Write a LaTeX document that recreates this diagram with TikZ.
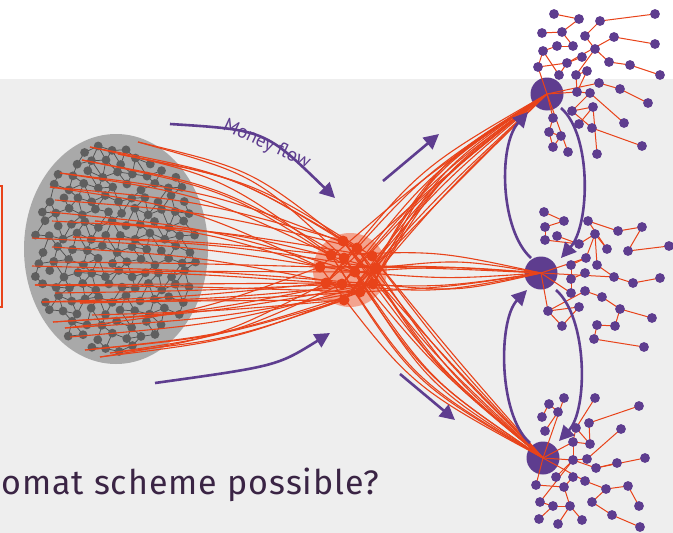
\documentclass[tikz,border=0pt]{standalone}
\usepackage{fontspec}
\setmainfont{Fira Sans}
\newfontfamily\labelfont{PT Sans}
\newfontfamily\titlefont[LetterSpace=3]{Fira Sans}
\usetikzlibrary{arrows.meta}
\definecolor{bandgray}{HTML}{EEEEEE}
\definecolor{blobgray}{HTML}{A9A9A9}
\definecolor{netgray}{HTML}{5F5F5F}
\definecolor{flowred}{HTML}{E8431A}
\definecolor{hazered}{HTML}{F3A38E}
\definecolor{purp}{HTML}{5E3D8F}
\definecolor{titleink}{HTML}{3A2444}
\newdimen\qsx \newdimen\qsy \newdimen\qkx \newdimen\qky \newdimen\qhx \newdimen\qhy

\begin{document}
\begin{tikzpicture}[x=1pt,y=-1pt,
  declare function={
    px(\a,\b)=116+14*\a+7*mod(\b+20,2)+4*sin(733*\a+419*\b+17);
    py(\a,\b)=249+12.5*\b+3.5*sin(577*\a+263*\b+101);
    ins(\a,\b)=((px(\a,\b)-116)/84)^2+((py(\a,\b)-249)/106)^2<1;
  },
  netedge/.style={draw=netgray!85!black, line width=0.75pt},
  netdot/.style={fill=netgray},
  flow/.style={draw=flowred, line width=1.1pt},
  hubedge/.style={draw=flowred, line width=1pt},
  hubdot/.style={fill=purp},
  moneyarrow/.style={draw=purp, line width=2.6pt, -{Triangle[length=15pt,width=15pt]}},
  swaparrow/.style={draw=purp, line width=2.6pt, -{Triangle[length=15pt,width=15pt]}},
  flowlabel/.style={text=purp, inner sep=0pt, font=\labelfont\fontsize{19pt}{22pt}\selectfont},
]
\useasboundingbox (0,0) rectangle (673,533);
\clip (0,0) rectangle (673,533);

% backdrop: white strip on top, grey band below
\fill[white] (0,0) rectangle (673,79);
\fill[bandgray] (0,79) rectangle (673,533);

% edge of the framed box on the left
\draw[flowred, line width=1.5pt] (-30,186) rectangle (2,307);

% the population: grey oval with a meshed network
\fill[blobgray] (116,249) ellipse [x radius=92pt, y radius=115pt];
\foreach \j in {-9,...,9}{
  \foreach \i in {-8,...,8}{
    \pgfmathtruncatemacro\here{ins(\i,\j)}
    \ifnum\here=1
      \pgfmathsetmacro\xa{px(\i,\j)}
      \pgfmathsetmacro\ya{py(\i,\j)}
      \pgfmathtruncatemacro\m{mod(\j+20,2)}
      \pgfmathtruncatemacro\keep{ins(\i+1,\j)*(sin(311*\i+173*\j+29)>-0.6)}
      \ifnum\keep=1
        \pgfmathsetmacro\xb{px(\i+1,\j)}\pgfmathsetmacro\yb{py(\i+1,\j)}
        \draw[netedge] (\xa,\ya) -- (\xb,\yb);
      \fi
      \pgfmathtruncatemacro\il{\i-1+\m}
      \pgfmathtruncatemacro\keep{ins(\il,\j+1)*(sin(197*\i+389*\j+71)>-0.45)}
      \ifnum\keep=1
        \pgfmathsetmacro\xb{px(\il,\j+1)}\pgfmathsetmacro\yb{py(\il,\j+1)}
        \draw[netedge] (\xa,\ya) -- (\xb,\yb);
      \fi
      \pgfmathtruncatemacro\ir{\i+\m}
      \pgfmathtruncatemacro\keep{ins(\ir,\j+1)*(sin(523*\i+157*\j+13)>-0.45)}
      \ifnum\keep=1
        \pgfmathsetmacro\xb{px(\ir,\j+1)}\pgfmathsetmacro\yb{py(\ir,\j+1)}
        \draw[netedge] (\xa,\ya) -- (\xb,\yb);
      \fi
    \fi
  }
}
\foreach \j in {-9,...,9}{
  \foreach \i in {-8,...,8}{
    \pgfmathtruncatemacro\here{ins(\i,\j)}
    \ifnum\here=1
      \pgfmathsetmacro\xa{px(\i,\j)}
      \pgfmathsetmacro\ya{py(\i,\j)}
      \fill[netdot] (\xa,\ya) circle (4.4pt);
    \fi
  }
}

% starting points of the money trails
\foreach \n/\x/\y in {1/138/142,2/90/147,3/118/154,4/82/160,5/60/173,6/50/187,
  7/55/200,8/50/212,9/52/221,10/95/221,11/32/238,12/73/237,13/52/247,14/50/262,
  15/32/266,16/75/271,17/35/285,18/55/293,19/42/302,20/80/303,21/92/315,
  22/53/322,23/65/328,24/70/337,25/85/350,26/100/357,27/110/353}
  \coordinate (s\n) at (\x,\y);

% the mixer in the middle
\coordinate (mix) at (350,270);
\fill[hazered] (mix) circle (37pt);
\foreach \n/\x/\y in {1/343/241,2/357/248,3/372/256,4/331/255,5/344/258,6/320/267,
  7/355/272,8/376/268,9/326/283,10/342/284,11/373/284,12/360/292,13/344/300}
  \coordinate (k\n) at (\x,\y);

% the three collecting hubs
\coordinate (h1) at (547,94);
\coordinate (h2) at (541,273);
\coordinate (h3) at (543,458);
\foreach \h in {h1,h2,h3} \fill[purp] (\h) circle (16.5pt);

% money trails: origin -> mixer knot -> hub; each leg is a quadratic arc,
% the first bowed by the drop to the knot, the second by the listed amount
\foreach \s/\k/\h/\bow in {
  s1/k1/h3/-10,s1/k5/h3/-60,s2/k2/h3/-20,s2/k4/h3/-75,s3/k3/h3/-5,s3/k1/h3/-40,
  s4/k5/h3/-30,s4/k7/h3/-65,s5/k4/h3/-80,s5/k2/h3/-45,s6/k6/h3/-70,s6/k1/h3/-25,
  s7/k2/h3/-50,s8/k7/h3/-55,s9/k3/h3/-15,s10/k8/h3/-35,
  s10/k6/h2/10,s11/k7/h2/-15,s12/k8/h2/25,s12/k4/h2/30,s13/k10/h2/-20,
  s14/k6/h2/5,s15/k11/h2/-30,s16/k7/h2/15,s16/k9/h2/-35,s17/k12/h2/-10,
  s17/k9/h1/10,s18/k10/h1/25,s19/k13/h1/5,s19/k9/h1/45,s20/k12/h1/15,
  s20/k11/h1/65,s21/k13/h1/30,s22/k10/h1/50,s23/k12/h1/75,s23/k6/h1/20,
  s24/k11/h1/80,s25/k13/h1/40,s26/k9/h1/60,s26/k12/h1/70,s27/k10/h1/35,
  s27/k13/h1/15,s22/k11/h1/55,s25/k12/h1/48}{
  \pgfextractx{\qsx}{\pgfpointanchor{\s}{center}}
  \pgfextracty{\qsy}{\pgfpointanchor{\s}{center}}
  \pgfextractx{\qkx}{\pgfpointanchor{\k}{center}}
  \pgfextracty{\qky}{\pgfpointanchor{\k}{center}}
  \pgfextractx{\qhx}{\pgfpointanchor{\h}{center}}
  \pgfextracty{\qhy}{\pgfpointanchor{\h}{center}}
  \pgfmathsetmacro\bl{0.25*(\qsy-\qky)}
  \pgfmathsetmacro\br{0.45*\bow}
  \pgfmathsetmacro\Ll{100*veclen((\qkx-\qsx)/100,(\qky-\qsy)/100)}
  \pgfmathsetmacro\clx{(\qsx+\qkx)/2-\bl*((\qky-\qsy)/\Ll)}
  \pgfmathsetmacro\cly{(\qsy+\qky)/2+\bl*((\qkx-\qsx)/\Ll)}
  \pgfmathsetmacro\Lr{100*veclen((\qhx-\qkx)/100,(\qhy-\qky)/100)}
  \pgfmathsetmacro\crx{(\qkx+\qhx)/2-\br*((\qhy-\qky)/\Lr)}
  \pgfmathsetmacro\cry{(\qky+\qhy)/2+\br*((\qhx-\qkx)/\Lr)}
  \draw[flow] (\s) .. controls (\clx pt,\cly pt) .. (\k)
                   .. controls (\crx pt,\cry pt) .. (\h);
}

\foreach \n in {1,...,13} \fill[flowred] (k\n) circle (5.5pt);

% network around the upper hub
\foreach \n/\x/\y in {1/554/14,2/579/19,3/655/14,4/600/21,5/542/33,6/562/32,
  7/585/36,8/614/37,9/655/44,10/557/46,11/573/46,12/543/51,13/595/49,14/582/57,
  15/538/67,16/567/63,17/609/62,18/630/65,19/660/75,20/559/75,21/576/75,
  22/587/71,23/599/83,24/577/92,25/590/93,26/620/89,27/648/103,28/572/111,
  29/593/107,30/553/118,31/579/124,32/592/128,33/624/123,34/549/132,35/561/136,
  36/553/147,37/568/152,38/597/154,39/642/146}
  \coordinate (a\n) at (\x,\y);
\foreach \p/\q in {a1/a2,a2/a6,a4/a3,a4/a7,a7/a13,a5/a6,a6/a11,a10/a12,a10/a11,
  a8/a9,a8/a16,a13/a17,a17/a18,a18/a19,a13/a21,a12/a20,a12/a15,a15/a16,a16/a20,
  h1/a15,a21/a22,a21/a24,a22/a24,a24/a25,a23/a26,a26/a27,h1/a24,h1/a23,a25/a28,
  a25/a33,a28/a29,a29/a31,h1/a30,a34/a35,a35/a36,a34/a36,h1/a37,a29/a38,
  a32/a39,a28/a32,a14/a16,a30/a34}
  \draw[hubedge] (\p) -- (\q);
\foreach \n in {1,...,39} \fill[hubdot] (a\n) circle (4.9pt);

% network around the middle hub
\foreach \n/\x/\y in {1/544/212,2/564/221,3/545/227,4/588/221,5/642/227,6/618/231,
  7/557/236,8/545/240,9/595/234,10/579/244,11/607/249,12/628/251,13/669/246,
  14/586/258,15/571/265,16/597/265,17/585/273,18/571/279,19/614/277,20/633/283,
  21/660/278,22/571/293,23/585/291,24/602/297,25/579/307,26/548/311,27/620/309,
  28/652/318,29/562/326,30/597/325,31/615/326,32/594/339,33/644/347}
  \coordinate (b\n) at (\x,\y);
\foreach \p/\q in {b1/b2,b2/b3,b3/b8,b8/b10,b7/b10,b4/b6,b6/b5,b5/b12,b12/b13,
  b9/b10,b9/b11,b9/b16,b9/b14,b4/b11,h2/b14,b15/b18,b18/b22,b15/b14,b16/b19,
  b19/b20,b20/b21,h2/b19,h2/b22,h2/b26,b26/b25,b26/b29,b29/b25,b23/b24,b26/b23,
  b24/b27,b27/b28,b27/b31,b31/b30,b30/b32,b32/b33,b17/b18}
  \draw[hubedge] (\p) -- (\q);
\foreach \n in {1,...,33} \fill[hubdot] (b\n) circle (4.9pt);

% network around the lower hub
\foreach \n/\x/\y in {1/549/404,2/564/398,3/542/417,4/558/412,5/595/398,6/639/406,
  7/545/431,8/576/428,9/589/423,10/621/429,11/573/442,12/590/444,13/573/460,
  14/587/459,15/596/468,16/617/463,17/645/458,18/556/477,19/573/477,20/585/481,
  21/536/485,22/564/487,23/606/489,24/628/486,25/540/502,26/553/506,27/570/506,
  28/592/502,29/639/506,30/539/519,31/558/524,32/582/520,33/612/515,34/640/527}
  \coordinate (c\n) at (\x,\y);
\foreach \p/\q in {c1/c3,c1/c4,h3/c2,c5/c8,c8/c12,c8/c11,c9/c6,c9/c12,c10/c14,
  h3/c11,c11/c13,c11/c12,h3/c13,c13/c14,c13/c15,c15/c17,c15/c16,c13/c25,c13/c18,
  c21/c22,c22/c19,c22/c27,c27/c32,c27/c31,c26/c25,c26/c27,c26/c30,h3/c21,
  c20/c23,c23/c24,c24/c29,c23/c28,c28/c33,c33/c34,h3/c20,c4/c7}
  \draw[hubedge] (\p) -- (\q);
\foreach \n in {1,...,34} \fill[hubdot] (c\n) circle (4.9pt);

% flow arrows around the mixer
\coordinate (mfA) at (170,124);
\coordinate (mfB) at (335,198);
\draw[moneyarrow] (mfA) .. controls (265,130) .. (mfB);
\coordinate (lfA) at (155,383);
\coordinate (lfB) at (330,333);
\draw[moneyarrow] (lfA) .. controls (277,366) .. (lfB);
\coordinate (upA) at (383,181);
\coordinate (upB) at (439,134);
\draw[moneyarrow] (upA) -- (upB);
\coordinate (dnA) at (400,374);
\coordinate (dnB) at (455,420);
\draw[moneyarrow] (dnA) -- (dnB);

% label riding on the upper arrow
\node[flowlabel, anchor=base west, rotate=-25] (moneyflow) at (222,129) {Money flow};

% exchange between the hubs
\coordinate (p1) at (531,258); \coordinate (p2) at (528,112);
\draw[swaparrow] (p1) .. controls (500,230) and (498,145) .. (p2);
\coordinate (p3) at (561,108); \coordinate (p4) at (561,258);
\draw[swaparrow] (p3) .. controls (592,135) and (590,225) .. (p4);
\coordinate (p5) at (530,443); \coordinate (p6) at (527,290);
\draw[swaparrow] (p5) .. controls (498,415) and (498,320) .. (p6);
\coordinate (p7) at (556,290); \coordinate (p8) at (559,441);
\draw[swaparrow] (p7) .. controls (588,318) and (588,410) .. (p8);

% question line
\node[anchor=base west, inner sep=0pt, text=titleink,
  font=\titlefont\fontsize{34pt}{40pt}\selectfont] (question) at (1,494) {omat scheme possible?};
\end{tikzpicture}
\end{document}
